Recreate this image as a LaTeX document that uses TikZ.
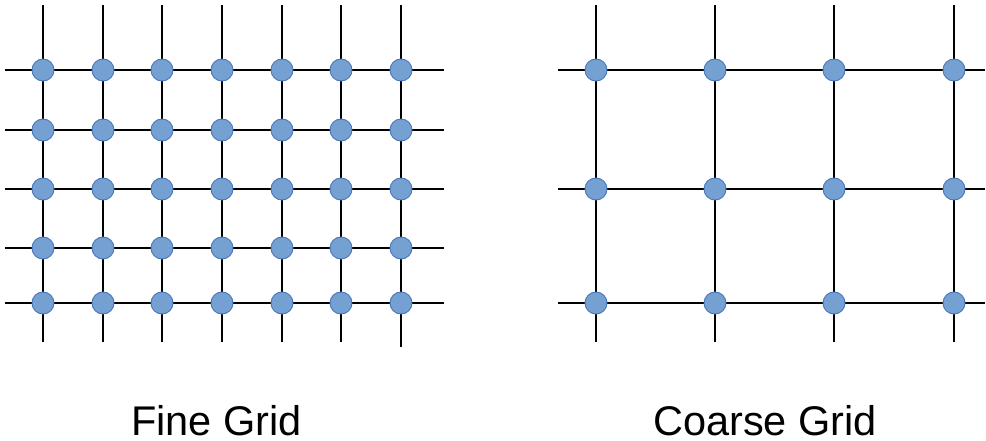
\documentclass[tikz,border=0pt]{standalone}
\usepackage{fontspec}
\setmainfont{Liberation Sans}
\definecolor{dotfill}{RGB}{117,160,210}
\definecolor{dotline}{RGB}{72,118,185}
\begin{document}
\begin{tikzpicture}[x=1pt,y=-1pt,
  gridline/.style={line width=2pt,black},
  dot/.style={circle,fill=dotfill,draw=dotline,line width=0.9pt,minimum size=22pt,inner sep=0pt},
  lbl/.style={font=\fontsize{41.5}{48}\selectfont,anchor=base,inner sep=0pt}]
\useasboundingbox (0,0) rectangle (986,441);
% Fine grid
\foreach \x [count=\i] in {43,103,162,222,282,341,401}{
  \coordinate (ft\i) at (\x,5);
  \coordinate (fb\i) at (\x,342);
}
\coordinate (fb7) at (401,347);
\foreach \y [count=\j] in {70,130,189,248,303}{
  \coordinate (fl\j) at (5,\y);
  \coordinate (fr\j) at (444,\y);
}
\foreach \i in {1,...,7} \draw[gridline] (ft\i) -- (fb\i);
\foreach \j in {1,...,5} \draw[gridline] (fl\j) -- (fr\j);
\foreach \x [count=\i] in {43,103,162,222,282,341,401}
  \foreach \y [count=\j] in {70,130,189,248,303}
    \node[dot] (f\i-\j) at (\x,\y) {};
% Coarse grid
\foreach \x [count=\i] in {596,715,834,954}{
  \coordinate (ct\i) at (\x,5);
  \coordinate (cb\i) at (\x,342);
}
\foreach \y [count=\j] in {70,189,303}{
  \coordinate (cl\j) at (558,\y);
  \coordinate (cr\j) at (985,\y);
}
\foreach \i in {1,...,4} \draw[gridline] (ct\i) -- (cb\i);
\foreach \j in {1,...,3} \draw[gridline] (cl\j) -- (cr\j);
\foreach \x [count=\i] in {596,715,834,954}
  \foreach \y [count=\j] in {70,189,303}
    \node[dot] (c\i-\j) at (\x,\y) {};
% Labels
\node[lbl] (finelabel) at (216.5,435) {Fine Grid};
\node[lbl] (coarselabel) at (765,435) {Coarse Grid};
\end{tikzpicture}
\end{document}
